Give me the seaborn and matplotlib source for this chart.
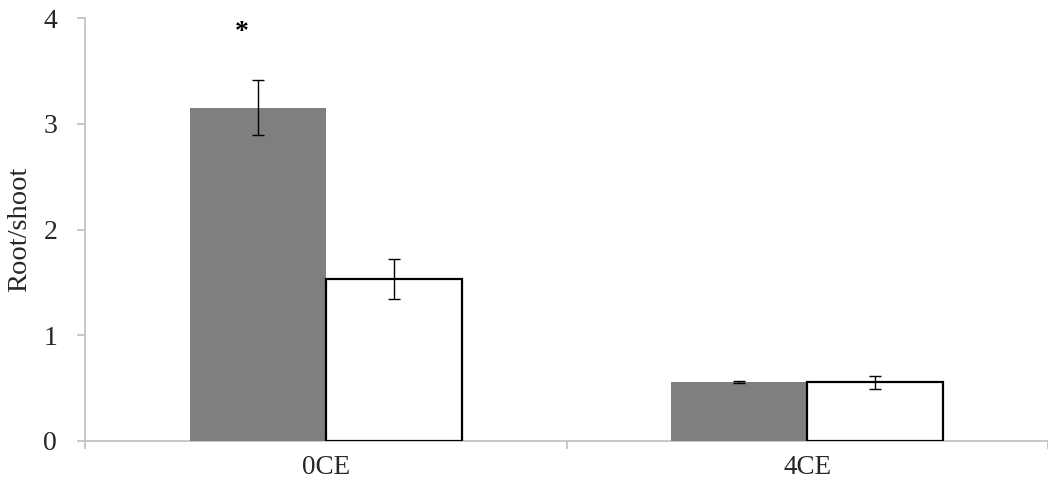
import matplotlib
matplotlib.use("Agg")
import matplotlib.pyplot as plt
import seaborn as sns
import pandas as pd
import numpy as np

# Root/shoot ratios per treatment, two series per treatment
categories = ["0CE", "4CE"]
series_names = ["series_1", "series_2"]
series_1_values = [3.15, 0.56]
series_1_errors = [0.26, 0.01]
series_2_values = [1.53, 0.555]
series_2_errors = [0.19, 0.06]
y_ticks = [0, 1, 2, 3, 4]

sns.set_style("white")
plt.rcParams["font.family"] = ["Liberation Serif", "DejaVu Serif"]

df = pd.DataFrame({
    "treatment": categories * 2,
    "series": [series_names[0]] * len(categories) + [series_names[1]] * len(categories),
    "ratio": series_1_values + series_2_values,
    "err": series_1_errors + series_2_errors,
})

fig = plt.figure(figsize=(10.48, 4.88), dpi=100)
ax = fig.add_axes([85 / 1048, 47 / 488, 963 / 1048, 423 / 488])

sns.barplot(
    data=df, x="treatment", y="ratio", hue="series", order=categories,
    hue_order=series_names,
    palette={series_names[0]: "#7f7f7f", series_names[1]: "white"},
    width=0.565, gap=0, saturation=1, errorbar=None, legend=False, ax=ax,
)

# Style bars and attach the standard-error whiskers
bars = ax.patches
for i, p in enumerate(bars):
    p.set_zorder(3)
    if i >= len(categories):
        p.set_edgecolor("black")
        p.set_linewidth(1.6)
    else:
        p.set_linewidth(0)

centers = [p.get_x() + p.get_width() / 2 for p in bars]
heights = [p.get_height() for p in bars]
ax.errorbar(centers, heights, yerr=df["err"].to_numpy(), fmt="none",
            ecolor="black", elinewidth=1.0, capsize=4, capthick=1.0, zorder=5)

# Significance marker above the first bar
ax.text(-0.175, 3.86, "*", ha="center", va="center", fontsize=20,
        fontweight="bold", color="black")

ax.set_xlim(-0.5, 1.46)
ax.set_ylim(0, 4)
ax.set_yticks(y_ticks)
ax.set_yticklabels([str(t) for t in y_ticks])
ax.set_xticks(range(len(categories)))
ax.set_xticklabels(categories)
ax.set_xticks([-0.5, 0.5, 1.5], minor=True)
ax.set_xlabel("")
ax.set_ylabel("Root/shoot", fontsize=20.5, labelpad=8)

ax.tick_params(axis="x", which="major", length=0, pad=10, labelsize=19.5)
ax.tick_params(axis="x", which="minor", length=6, width=1.2,
               color="#bfbfbf", direction="out")
ax.tick_params(axis="y", length=6, width=1.2, color="#bfbfbf",
               direction="out", pad=14, labelsize=20)
ax.tick_params(left=True, bottom=True)
ax.xaxis.set_tick_params(which="minor", bottom=True)

for side in ["top", "right"]:
    ax.spines[side].set_visible(False)
for side in ["left", "bottom"]:
    ax.spines[side].set_color("#bfbfbf")
    ax.spines[side].set_linewidth(1.2)

fig.savefig("out.png", dpi=100)
